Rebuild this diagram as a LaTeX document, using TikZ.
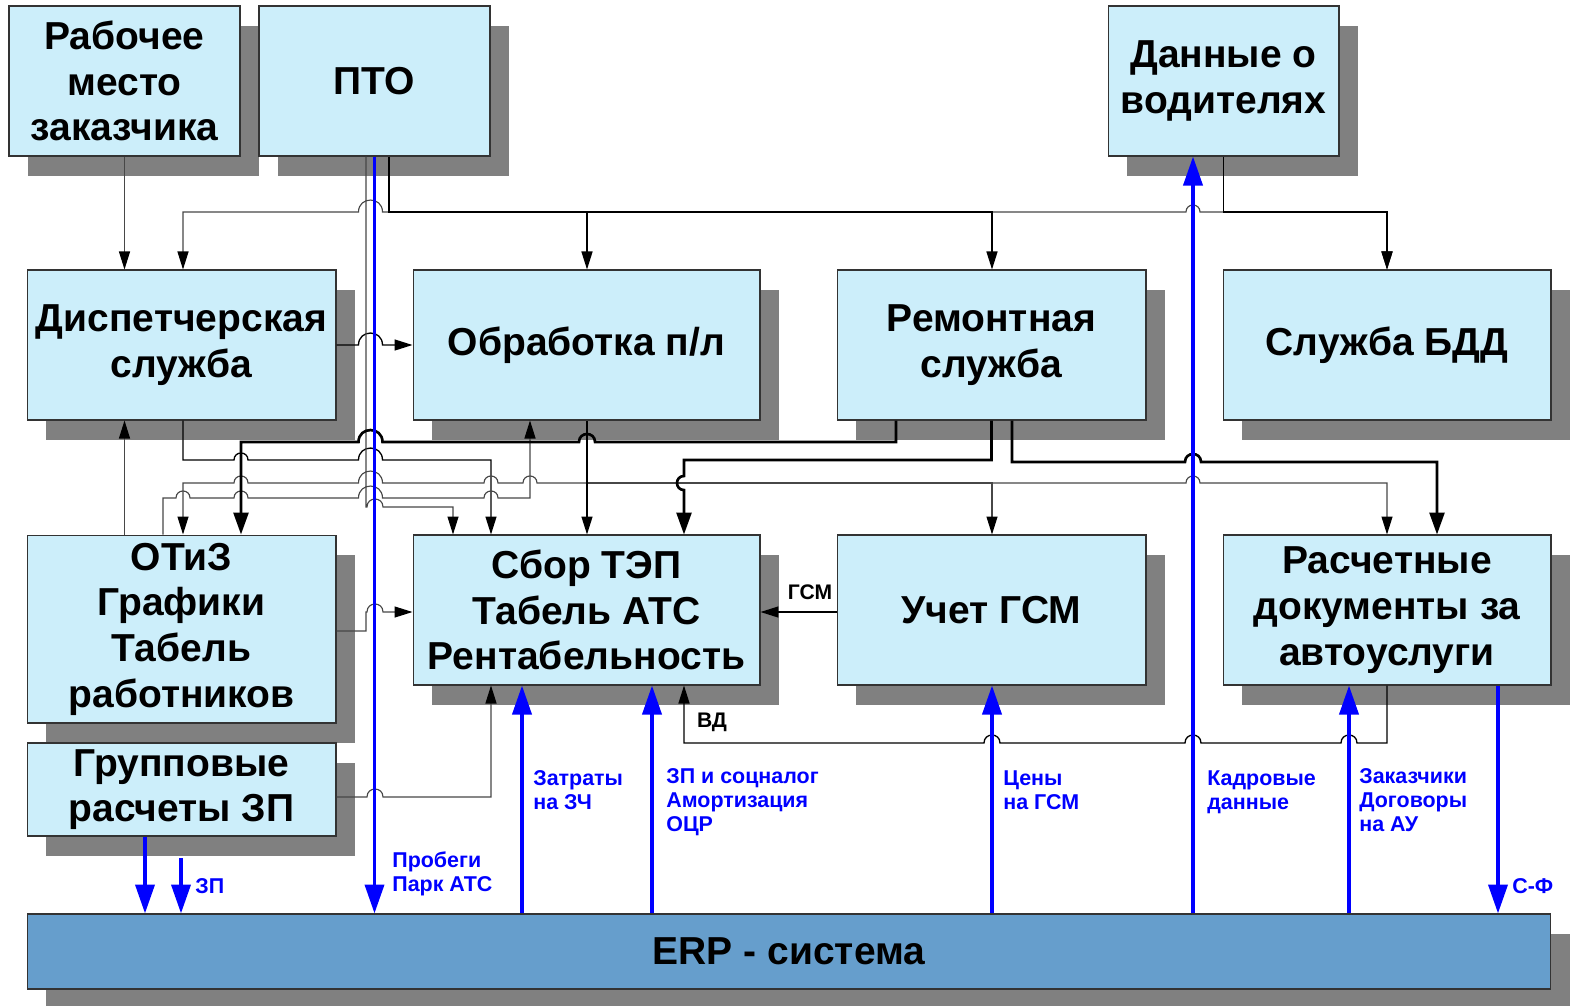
\documentclass[tikz,border=0pt]{standalone}
\usepackage{fontspec}
\setmainfont{Liberation Sans}
\usetikzlibrary{arrows.meta}
\usetikzlibrary{shadows}

\definecolor{boxfill}{RGB}{204,238,250}
\definecolor{erpfill}{RGB}{102,158,204}
\definecolor{shadowgray}{RGB}{128,128,128}
\definecolor{flowblue}{RGB}{0,0,255}

\newcommand\boxfont{\fontsize{22.2}{26}\selectfont\bfseries}
\newcommand\lblfont{\fontsize{12.2}{13.6}\selectfont\bfseries}
\newcommand\tagfont{\fontsize{12}{13.6}\selectfont\bfseries}

% hops over crossing lines: x, y, half width
\newcommand\hopr[3]{-- (#1-#3,#2) .. controls +(0,-1.33*#3) and +(0,-1.33*#3) .. (#1+#3,#2)}
\newcommand\hopl[3]{-- (#1+#3,#2) .. controls +(0,-1.33*#3) and +(0,-1.33*#3) .. (#1-#3,#2)}
\newcommand\hopd[3]{-- (#1,#2-#3) .. controls +(-1.33*#3,0) and +(-1.33*#3,0) .. (#1,#2+#3)}

\tikzset{
  box/.style={draw=black!80, line width=0.6pt, fill=boxfill, align=center, inner sep=0pt,
    font=\boxfont, general shadow={fill=shadowgray, shadow xshift=0.38cm, shadow yshift=-0.4cm}},
  gline/.style={draw=black!72, line width=0.65pt},
  kline/.style={draw=black, line width=0.75pt},
  tline/.style={draw=black, line width=1.5pt},
  arr/.style={-{Triangle[length=0.36cm,width=0.22cm,color=black]}},
  tarr/.style={-{Triangle[length=0.44cm,width=0.3cm]}},
  bline/.style={draw=flowblue, line width=2.2pt, -{Triangle[length=0.58cm,width=0.38cm]}},
  lbl/.style={text=flowblue, font=\lblfont, align=left, anchor=west, inner sep=0pt},
  tag/.style={font=\tagfont, inner sep=0pt},
}

\begin{document}
\begin{tikzpicture}[x=0.02cm, y=-0.02cm]
\useasboundingbox (0,0) rectangle (1572,1005);

% top row
\node[box, minimum width=4.62cm, minimum height=3cm] (rab) at (124.5,81) {Рабочее\\место\\заказчика};
\node[box, minimum width=4.62cm, minimum height=3cm] (pto) at (374.5,81) {ПТО};
\node[box, minimum width=4.62cm, minimum height=3cm] (dan) at (1223.5,81) {Данные о\\водителях};

% second row
\node[box, minimum width=6.18cm, minimum height=3cm] (disp) at (181.5,345) {Диспетчерская\\служба};
\node[box, minimum width=6.94cm, minimum height=3cm] (obr) at (586.5,345) {Обработка п/л};
\node[box, minimum width=6.18cm, minimum height=3cm] (rem) at (991.5,345) {Ремонтная\\служба};
\node[box, minimum width=6.56cm, minimum height=3cm] (bdd) at (1387,345) {Служба БДД};

% third row
\node[box, minimum width=6.18cm, minimum height=3.76cm] (otiz) at (181.5,629) {ОТиЗ\\Графики\\Табель\\работников};
\node[box, minimum width=6.94cm, minimum height=3cm] (sbor) at (586.5,610) {Сбор ТЭП\\Табель АТС\\Рентабельность};
\node[box, minimum width=6.18cm, minimum height=3cm] (ucet) at (991.5,610) {Учет ГСМ};
\node[box, minimum width=6.56cm, minimum height=3cm] (rasch) at (1387,610) {Расчетные\\документы за\\автоуслуги};
\node[box, minimum width=6.18cm, minimum height=1.86cm] (grp) at (181.5,789.5) {Групповые\\расчеты ЗП};

\node[box, fill=erpfill, minimum width=30.48cm, minimum height=1.5cm] (erp) at (789,951.5) {ERP - система};

% from the top row
\draw[gline,arr] (rab.south) -- (disp.north -| rab.south);
\draw[gline,arr] (pto.south -| 389,0) -- (389,212) \hopl{370.5}{212}{12} -- (183,212) -- (disp.north -| 183,0);
\draw[gline,arr] (pto.south -| 389,0) -- (389,212) \hopr{1193}{212}{7} -- (1387,212) -- (bdd.north);
\draw[kline,arr] (pto.south -| 389,0) |- (587,212) -- (obr.north -| 587,0);
\draw[kline,arr] (pto.south -| 389,0) |- (992,212) -- (rem.north -| 992,0);
\draw[kline,arr] (dan.south) |- (1387,212) -- (bdd.north);

% second row to third row
\draw[kline,arr] (disp.east) \hopr{370.5}{345}{12} -- (obr.west);
\draw[gline,arr] (otiz.north -| rab.south) -- (disp.south -| rab.south);
\draw[kline,arr] (disp.south -| 183,0) -- (183,460) \hopr{241}{460}{7} \hopr{370.5}{460}{12} -- (491,460) -- (sbor.north -| 491,0);
\draw[gline,arr] (otiz.north -| 163,0) -- (163,498) \hopr{183}{498}{7} \hopr{241}{498}{7} \hopr{370.5}{498}{12} \hopr{491}{498}{7} -- (530,498) -- (obr.south -| 530,0);
\draw[gline,arr] (obr.south -| 587,0) -- (587,483) \hopl{530}{483}{7} \hopl{491}{483}{7} \hopl{370.5}{483}{12} \hopl{241}{483}{7} -- (183,483) -- (otiz.north -| 183,0);
\draw[gline,arr] (obr.south -| 587,0) |- (992,483) -- (ucet.north -| 992,0);
\draw[gline,arr] (obr.south -| 587,0) -- (587,483) \hopr{1193}{483}{7} -- (1387,483) -- (rasch.north);
\draw[kline,arr] (obr.south -| 587,0) -- (sbor.north -| 587,0);
\draw[gline,arr] (pto.south -| 366,0) -- (366,507) \hopr{375}{507}{8} -- (453,507) -- (sbor.north -| 453,0);
\draw[tline,tarr] (rem.south -| 896,0) -- (896,442) \hopl{587}{442}{8} \hopl{370.5}{442}{12} -- (241,442) -- (otiz.north -| 241,0);
\draw[tline,tarr] (rem.south) |- (684,460) \hopd{684}{483}{7} -- (sbor.north -| 684,0);
\draw[tline,tarr] (rem.south -| 1012,0) -- (1012,462) \hopr{1193}{462}{8} -- (1437,462) -- (rasch.north -| 1437,0);

% into Сбор ТЭП
\draw[gline,arr] (otiz.east |- 0,631) -- (366,631) -- (366,612) \hopr{375}{612}{8} -- (sbor.west |- 0,612);
\draw[gline,arr] (grp.east |- 0,797) \hopr{375}{797}{8} -- (491,797) -- (sbor.south -| 491,0);
\draw[kline,arr] (ucet.west |- 0,612) -- (sbor.east |- 0,612);
\node[tag] (lgsm) at (810,592) {ГСМ};
\draw[kline,arr] (rasch.south) -- (1387,743) \hopl{1349}{743}{8} \hopl{1193}{743}{8} \hopl{992}{743}{8} -- (684,743) -- (sbor.south -| 684,0);
\node[tag] (lvd) at (712,722) {ВД};

% ERP flows
\coordinate (zpstart) at (181,858);
\draw[bline] (pto.south) -- (erp.north -| pto.south);
\draw[bline] (grp.south -| 145,0) -- (erp.north -| 145,0);
\draw[bline] (zpstart) -- (erp.north -| zpstart);
\draw[bline] (erp.north -| 522,0) -- (sbor.south -| 522,0);
\draw[bline] (erp.north -| 652,0) -- (sbor.south -| 652,0);
\draw[bline] (erp.north -| 992,0) -- (ucet.south -| 992,0);
\draw[bline] (erp.north -| 1193,0) -- (dan.south -| 1193,0);
\draw[bline] (erp.north -| 1349,0) -- (rasch.south -| 1349,0);
\draw[bline] (rasch.south -| 1498,0) -- (erp.north -| 1498,0);

\node[lbl] (lprob) at (392,874) {Пробеги\\Парк АТС};
\node[lbl] (lzp) at (195,886) {ЗП};
\node[lbl] (lzatr) at (533,790) {Затраты\\на ЗЧ};
\node[lbl] (lsoc) at (666,802) {ЗП и соцналог\\Амортизация\\ОЦР};
\node[lbl] (lceny) at (1003,790) {Цены\\на ГСМ};
\node[lbl] (lkadr) at (1207,792) {Кадровые\\данные};
\node[lbl] (lzak) at (1359,800) {Заказчики\\Договоры\\на АУ};
\node[lbl] (lsf) at (1512,886) {С-Ф};
\end{tikzpicture}
\end{document}
